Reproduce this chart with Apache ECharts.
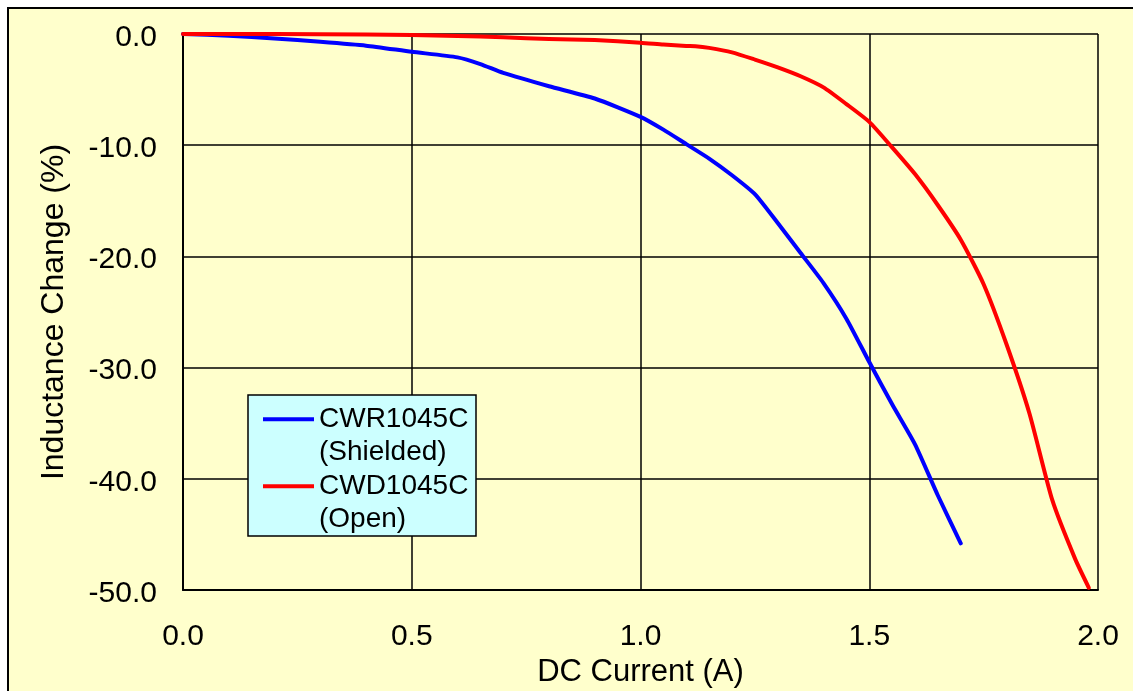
<!DOCTYPE html>
<html>
<head>
<meta charset="utf-8">
<script src="https://cdn.jsdelivr.net/npm/echarts@6/dist/echarts.min.js"></script>
<style>
  html, body { margin: 0; padding: 0; background: #ffffff; }
  #frame { position: absolute; left: 7px; top: 7px; width: 1300px; height: 900px;
           background: #FFFFCC; border-left: 2px solid #000; border-top: 2px solid #000; }
  #chart { position: absolute; left: 0; top: 0; width: 1133px; height: 691px; }
</style>
</head>
<body>
<div id="frame"></div>
<div id="chart"></div>
<script>
// ---- data ----
const seriesNames = ['CWR1045C\n(Shielded)', 'CWD1045C\n(Open)'];
const xTicks = ['0.0', '0.5', '1.0', '1.5', '2.0'];
const yTicks = ['0.0', '-10.0', '-20.0', '-30.0', '-40.0', '-50.0'];

const shieldedCurrent = [0, 0.1, 0.2, 0.3, 0.4, 0.5, 0.6, 0.65, 0.7, 0.8, 0.9, 1.0, 1.05, 1.1, 1.15, 1.2, 1.25, 1.3, 1.35, 1.4, 1.45, 1.5, 1.55, 1.6, 1.65, 1.7];
const shieldedChange  = [0, -0.15, -0.4, -0.7, -1.05, -1.6, -2.1, -2.7, -3.5, -4.7, -5.8, -7.45, -8.6, -9.9, -11.2, -12.7, -14.4, -17.0, -19.7, -22.4, -25.6, -29.5, -33.3, -36.9, -41.5, -45.8];

const openCurrent = [0, 0.2, 0.4, 0.5, 0.6, 0.7, 0.8, 0.9, 1.0, 1.05, 1.1, 1.12, 1.15, 1.2, 1.25, 1.3, 1.35, 1.4, 1.45, 1.5, 1.55, 1.6, 1.65, 1.7, 1.75, 1.8, 1.85, 1.9, 1.95, 1.98];
const openChange  = [0, 0, -0.05, -0.1, -0.17, -0.3, -0.45, -0.55, -0.78, -0.95, -1.08, -1.1, -1.25, -1.65, -2.3, -3.0, -3.8, -4.8, -6.3, -7.9, -10.2, -12.6, -15.4, -18.5, -22.5, -27.9, -34.1, -41.9, -47.2, -49.8];

const pairs = (xs, ys) => xs.map((x, i) => [x, ys[i]]);

const FONT = 'Arial, "Liberation Sans", sans-serif';
const chart = echarts.init(document.getElementById('chart'), null, { renderer: 'canvas' });

chart.setOption({
  backgroundColor: 'transparent',
  animation: false,
  textStyle: { fontFamily: FONT, color: '#000' },
  grid: { left: 183, top: 34, right: 35, bottom: 101, show: false,
          containLabel: false, outerBoundsMode: 'none' },
  xAxis: {
    type: 'value', min: 0, max: 2, interval: 0.5,
    name: 'DC Current (A)', nameLocation: 'middle', nameGap: 64,
    nameTextStyle: { fontSize: 31, fontFamily: FONT, color: '#000' },
    axisLine: { show: true, onZero: false, lineStyle: { color: '#000', width: 2 } },
    axisTick: { show: false },
    axisLabel: { fontSize: 30, fontFamily: FONT, color: '#000', margin: 32,
                 formatter: v => xTicks[Math.round(v / 0.5)] },
    splitLine: { show: true, lineStyle: { color: '#000', width: 1.5 } }
  },
  yAxis: {
    type: 'value', min: -50, max: 0, interval: 10,
    name: 'Inductance Change (%)', nameLocation: 'middle', nameGap: 113,
    nameTextStyle: { fontSize: 32, fontFamily: FONT, color: '#000' },
    axisLine: { show: true, onZero: false, lineStyle: { color: '#000', width: 2 } },
    axisTick: { show: false },
    axisLabel: { fontSize: 30, fontFamily: FONT, color: '#000', margin: 26,
                 formatter: v => '{t|' + yTicks[Math.round(-v / 10)] + '}',
                 rich: { t: { fontSize: 30, fontFamily: FONT, color: '#000', padding: [7, 0, 0, 0] } } },
    splitLine: { show: true, lineStyle: { color: '#000', width: 1.5 } }
  },
  graphic: [{
    type: 'rect', z: 3, silent: true,
    shape: { x: 248, y: 395, width: 228, height: 141 },
    style: { fill: '#CCFFFF', stroke: '#000', lineWidth: 1.5 }
  }],
  legend: {
    orient: 'vertical', left: 258, top: 364, z: 5,
    icon: 'rect', itemWidth: 51, itemHeight: 4, itemGap: -33.5,
    selectedMode: false,
    formatter: name => '\n' + name,
    textStyle: { fontSize: 28, fontFamily: FONT, color: '#000', lineHeight: 33.5 },
    data: seriesNames
  },
  series: [
    {
      name: seriesNames[0], type: 'line', data: pairs(shieldedCurrent, shieldedChange),
      symbol: 'none', smooth: 0.2, z: 2,
      lineStyle: { color: '#0000FF', width: 4, cap: 'round', join: 'round' },
      itemStyle: { color: '#0000FF' }
    },
    {
      name: seriesNames[1], type: 'line', data: pairs(openCurrent, openChange),
      symbol: 'none', smooth: 0.2, z: 2,
      lineStyle: { color: '#FF0000', width: 4, cap: 'round', join: 'round' },
      itemStyle: { color: '#FF0000' }
    }
  ]
});
</script>
</body>
</html>
